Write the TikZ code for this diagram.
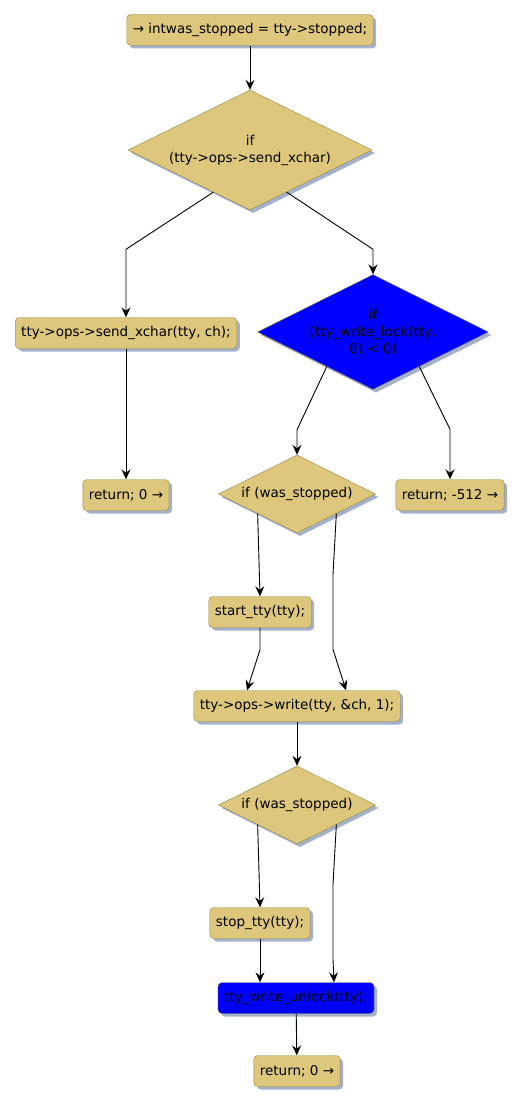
\documentclass[tikz,border=0pt]{standalone}
\usepackage{fontspec}
\setmainfont{DejaVu Sans}
\usepackage{tikz}
\usetikzlibrary{shapes.geometric, arrows.meta, calc, shadows}
\definecolor{Sand}  {HTML}{DCC77D}
\definecolor{Olive} {HTML}{98863E}
\definecolor{Shade} {HTML}{A4B1CB}

\begin{document}
\begin{tikzpicture}[
  x=1pt,y=-1pt,
  blk/.style={draw=Olive,rounded corners=4pt,fill=Sand,
              minimum height=31pt,inner xsep=6pt,
              font=\fontsize{13.5}{17}\selectfont,
              drop shadow={shadow xshift=3pt,shadow yshift=-3pt,fill=Shade,opacity=1}},
  cnd/.style={draw=Olive,diamond,aspect=2,fill=Sand,inner sep=0pt,align=center,
              font=\fontsize{13.5}{17}\selectfont,
              drop shadow={shadow xshift=3pt,shadow yshift=-3pt,fill=Shade,opacity=1}},
  hot/.style={fill=blue},
  arr/.style={-{Stealth[length=10pt,width=9pt,inset=3.5pt]},line width=0.9pt}
]
  \useasboundingbox (0,0) rectangle (522,1105);
  \node[blk]           (Init)   at (250,30)   {→ intwas\_stopped = tty->stopped;};
  \node[cnd,minimum width=244pt,minimum height=120pt]
                       (IfSend) at (250,150)  {if\\(tty->ops->send\_xchar)};
  \node[blk]           (Send)   at (126,333)  {tty->ops->send\_xchar(tty, ch);};
  \node[cnd,hot,minimum width=231pt,minimum height=115pt]
                       (IfLock) at (373,332)  {if\\(tty\_write\_lock(tty,\\0) < 0)};
  \node[blk]           (RetA)   at (126,495)  {return; 0 →};
  \node[cnd,minimum width=157pt,minimum height=78pt]
                       (IfStA)  at (297,494)  {if (was\_stopped)};
  \node[blk]           (RetErr) at (450,495)  {return; -512 →};
  \node[blk]           (Start)  at (260,612)  {start\_tty(tty);};
  \node[blk]           (Write)  at (297,706)  {tty->ops->write(tty, \&ch, 1);};
  \node[cnd,minimum width=157pt,minimum height=78pt]
                       (IfStB)  at (297,805)  {if (was\_stopped)};
  \node[blk]           (Stop)   at (260,923)  {stop\_tty(tty);};
  \node[blk,hot]       (Unlock) at (296,998)  {tty\_write\_unlock(tty);};
  \node[blk]           (RetB)   at (297,1071) {return; 0 →};

  \draw[arr](Init)--(IfSend); \draw[arr](Send)--(RetA);
  \draw[arr](Write)--(IfStB); \draw[arr](Unlock)--(RetB);
  % branches
  \draw[arr]($(IfSend.south)!0.3!(IfSend.west)$) -- ([yshift=68pt]Send.north) -- (Send.north);
  \draw[arr]($(IfSend.south)!0.3!(IfSend.east)$) -- ([yshift=25pt]IfLock.north) -- (IfLock.north);
  \draw[arr]($(IfLock.south)!0.4!(IfLock.west)$) -- ([yshift=25pt]IfStA.north) -- (IfStA.north);
  \draw[arr]($(IfLock.south)!0.4!(IfLock.east)$) -- ([yshift=50pt]RetErr.north) -- (RetErr.north);
  \draw[arr](IfStA.south west) -- (Start.north);
  \draw[arr](IfStA.south east) -- ([xshift=36pt,yshift=116pt]Write.north)
    -- ([xshift=36pt,yshift=41pt]Write.north) -- ([xshift=49pt]Write.north);
  \draw[arr](Start.south) -- ([yshift=-22pt]Start.south) -- ([xshift=-50pt]Write.north);
  \draw[arr](IfStB.south west) -- (Stop.north);
  \draw[arr](IfStB.south east) -- ([xshift=37pt,yshift=98pt]Unlock.north)
    -- ([xshift=37pt,yshift=23pt]Unlock.north) -- ([xshift=38pt]Unlock.north);
  \draw[arr](Stop.south) -- (Stop.south |- Unlock.north);
\end{tikzpicture}
\end{document}
